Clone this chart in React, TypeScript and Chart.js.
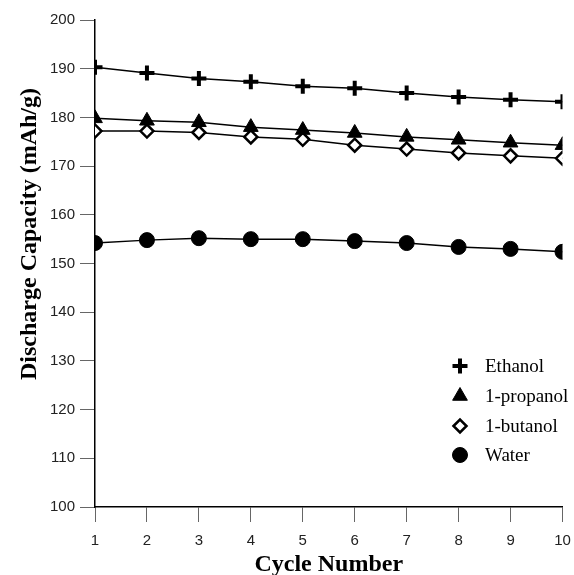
import React, { useEffect, useRef } from 'react';
import { Chart, registerables } from 'chart.js';
import { drawPoint } from 'chart.js/helpers';

Chart.register(...registerables);

const cycles = [1, 2, 3, 4, 5, 6, 7, 8, 9, 10];
const ethanol = [190.3, 189.1, 188.0, 187.3, 186.4, 186.0, 185.0, 184.2, 183.6, 183.2];
const propanol = [179.8, 179.3, 179.0, 178.0, 177.4, 176.8, 176.0, 175.4, 174.8, 174.3];
const butanol = [177.2, 177.2, 176.9, 176.0, 175.5, 174.3, 173.5, 172.7, 172.1, 171.6];
const water = [154.2, 154.8, 155.2, 155.0, 155.0, 154.6, 154.2, 153.4, 153.0, 152.4];
const seriesNames = ['Ethanol', '1-propanol', '1-butanol', 'Water'];
const yTitle = 'Discharge Capacity (mAh/g)';
const xTitle = 'Cycle Number';

const markers = [
  { pointStyle: 'cross', radius: 7.5, borderWidth: 4, fill: '#000' },
  { pointStyle: 'triangle', radius: 8.5, borderWidth: 1, fill: '#000' },
  { pointStyle: 'rectRot', radius: 6.5, borderWidth: 2.5, fill: '#fff' },
  { pointStyle: 'circle', radius: 7.5, borderWidth: 1, fill: '#000' },
];

const legendPlugin = {
  id: 'customLegend',
  afterDraw(chart: any) {
    const ctx = chart.ctx;
    const rows = [366, 396, 426, 455];
    ctx.save();
    seriesNames.forEach((name, i) => {
      const m = markers[i];
      ctx.fillStyle = m.fill;
      ctx.strokeStyle = '#000';
      ctx.lineWidth = m.borderWidth;
      drawPoint(ctx, { pointStyle: m.pointStyle, radius: m.radius, borderWidth: m.borderWidth, rotation: 0 }, 460, rows[i]);
      ctx.fillStyle = '#000';
      ctx.font = '19px "Liberation Serif"';
      ctx.textAlign = 'left';
      ctx.textBaseline = 'middle';
      ctx.fillText(name, 485, rows[i] + 1);
    });
    ctx.restore();
  },
};

const yTitlePlugin = {
  id: 'yTitle',
  afterDraw(chart: any) {
    const ctx = chart.ctx;
    ctx.save();
    ctx.translate(30, 234);
    ctx.rotate(-Math.PI / 2);
    ctx.font = 'bold 24px "Liberation Serif"';
    ctx.fillStyle = '#000';
    ctx.textAlign = 'center';
    ctx.textBaseline = 'middle';
    ctx.fillText(yTitle, 0, 0);
    ctx.restore();
  },
};

export default function App() {
  const ref = useRef<HTMLCanvasElement>(null);
  useEffect(() => {
    if (!ref.current) return;
    const series = [ethanol, propanol, butanol, water];
    const chart = new Chart(ref.current, {
      type: 'line',
      data: {
        datasets: series.map((vals, i) => ({
          label: seriesNames[i],
          data: cycles.map((c, j) => ({ x: c, y: vals[j] })),
          borderColor: '#000',
          borderWidth: 1.5,
          pointStyle: markers[i].pointStyle as any,
          pointRadius: markers[i].radius,
          pointBorderWidth: markers[i].borderWidth,
          pointBackgroundColor: markers[i].fill,
          pointBorderColor: '#000',
          tension: 0,
          fill: false,
        })),
      },
      options: {
        animation: false,
        responsive: false,
        devicePixelRatio: 1,
        layout: { padding: { top: 20, right: 9, left: 0, bottom: 0 } },
        plugins: { legend: { display: false }, tooltip: { enabled: false } },
        scales: {
          x: {
            type: 'linear',
            min: 1,
            max: 10,
            afterFit: (s: any) => { s.height = 68; s.paddingRight = 0; s.paddingLeft = 0; },
            ticks: { stepSize: 1, color: '#222', padding: 10, font: { family: 'Liberation Sans', size: 15 } },
            grid: { drawOnChartArea: false, drawTicks: true, tickLength: 15, color: '#666', lineWidth: 1 },
            border: { display: true, color: '#000', width: 1.5 },
            title: { display: true, text: xTitle, color: '#000', padding: { top: 0, bottom: -4 }, font: { family: 'Liberation Serif', size: 24, weight: 'bold' } },
          },
          y: {
            type: 'linear',
            min: 100,
            max: 200,
            afterFit: (s: any) => { s.width = 95; s.paddingTop = 0; s.paddingBottom = 0; },
            ticks: { stepSize: 10, color: '#222', padding: 5, font: { family: 'Liberation Sans', size: 15 } },
            grid: { drawOnChartArea: false, drawTicks: true, tickLength: 15, color: '#666', lineWidth: 1 },
            border: { display: true, color: '#000', width: 1.5 },
          },
        },
      },
      plugins: [legendPlugin, yTitlePlugin],
    });
    return () => chart.destroy();
  }, []);
  return (
    <div style={{ position: 'fixed', left: 0, top: 0, width: 574, height: 575, background: '#fff' }}>
      <canvas ref={ref} width={574} height={575} />
    </div>
  );
}
